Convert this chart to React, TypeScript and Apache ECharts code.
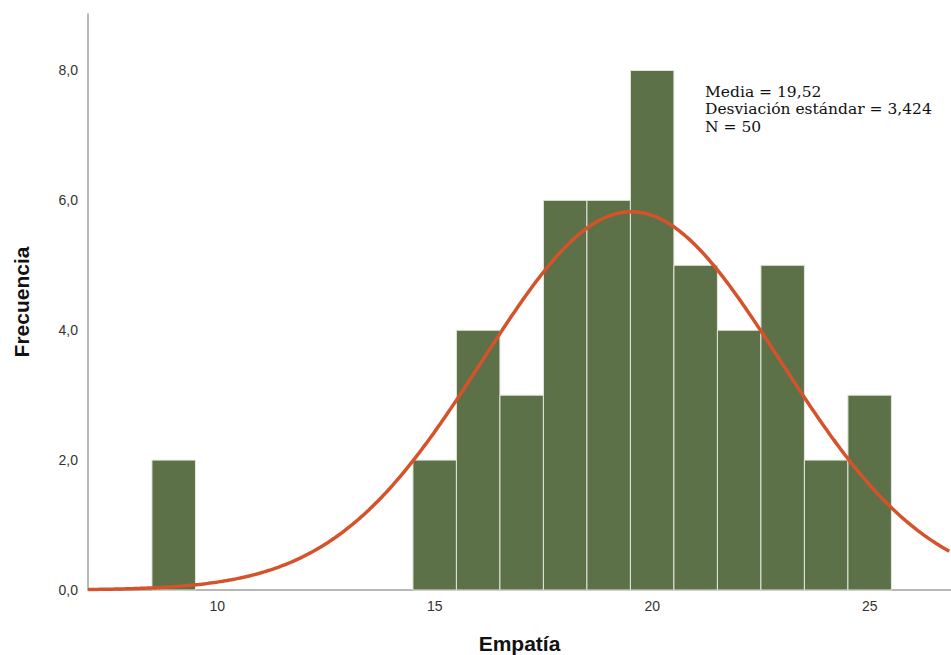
import React, { useEffect, useRef } from "react";
import * as echarts from "echarts";

const BIN_CENTERS = [9, 15, 16, 17, 18, 19, 20, 21, 22, 23, 24, 25];
const COUNTS = [2, 2, 4, 3, 6, 6, 8, 5, 4, 5, 2, 3];
const X_TICKS = [10, 15, 20, 25];
const Y_TICKS = [0, 2, 4, 6, 8];
const MEAN = 19.52;
const SD = 3.424;
const N = 50;
const BIN_WIDTH = 1;
const X_MIN = 7.03;
const X_MAX = 26.87;
const Y_MAX = 8.87;
const STATS_LINES = ["Media = 19,52", "Desviación estándar = 3,424", "N = 50"];

function normalCurve(): number[][] {
  const pts: number[][] = [];
  const k = (N * BIN_WIDTH) / (SD * Math.sqrt(2 * Math.PI));
  for (let x = X_MIN; x <= X_MAX + 1e-9; x += 0.05) {
    const z = (x - MEAN) / SD;
    pts.push([x, k * Math.exp(-0.5 * z * z)]);
  }
  return pts;
}

export default function App() {
  const ref = useRef<HTMLDivElement>(null);
  useEffect(() => {
    if (!ref.current) return;
    const chart = echarts.init(ref.current, null, { renderer: "svg" });
    const barData = BIN_CENTERS.map((c, i) => [c, COUNTS[i]]);
    chart.setOption({
      animation: false,
      backgroundColor: "#ffffff",
      grid: { left: 88, right: 0, top: 14, bottom: 65, containLabel: false, outerBoundsMode: "none" },
      xAxis: {
        type: "value",
        min: X_MIN,
        max: X_MAX,
        name: "Empatía",
        nameLocation: "middle",
        nameGap: 43,
        nameTextStyle: { fontFamily: "Liberation Sans", fontWeight: "bold", fontSize: 21, color: "#111" },
        axisLine: { show: true, lineStyle: { color: "#a0a0a0", width: 1.5 } },
        axisTick: { show: false },
        splitLine: { show: false },
        axisLabel: {
          customValues: X_TICKS,
          margin: 9,
          fontFamily: "Liberation Sans",
          fontSize: 14,
          color: "#333",
          formatter: (v: number) => String(v),
        },
      },
      yAxis: {
        type: "value",
        min: 0,
        max: Y_MAX,
        name: "Frecuencia",
        nameLocation: "middle",
        nameGap: 56,
        nameTextStyle: { fontFamily: "Liberation Sans", fontWeight: "bold", fontSize: 21, color: "#111" },
        axisLine: { show: true, lineStyle: { color: "#a0a0a0", width: 1.5 } },
        axisTick: { show: false },
        splitLine: { show: false },
        axisLabel: {
          customValues: Y_TICKS,
          margin: 10,
          padding: [6, 0, 0, 0],
          fontFamily: "Liberation Sans",
          fontSize: 14,
          color: "#333",
          formatter: (v: number) => v.toFixed(1).replace(".", ","),
        },
      },
      graphic: [
        {
          type: "text",
          left: 705,
          top: 83,
          style: {
            text: STATS_LINES.join("\n"),
            fontFamily: "DejaVu Serif",
            fontSize: 15.5,
            lineHeight: 17.5,
            fill: "#111",
          },
        },
      ],
      series: [
        {
          type: "custom",
          data: barData,
          encode: { x: 0, y: 1 },
          renderItem: (params: any, api: any) => {
            const x = api.value(0);
            const y = api.value(1);
            const p0 = api.coord([x - BIN_WIDTH / 2, y]);
            const p1 = api.coord([x + BIN_WIDTH / 2, 0]);
            return {
              type: "rect",
              shape: { x: p0[0], y: p0[1], width: p1[0] - p0[0], height: p1[1] - p0[1] },
              style: { fill: "#5c7148", stroke: "#e4e6dc", lineWidth: 1 },
            };
          },
          z: 2,
        },
        {
          type: "line",
          data: normalCurve(),
          showSymbol: false,
          symbol: "none",
          smooth: false,
          lineStyle: { color: "#d4532b", width: 3.5 },
          z: 3,
        },
      ],
    });
    return () => chart.dispose();
  }, []);
  return (
    <div
      ref={ref}
      style={{ position: "absolute", left: 0, top: 0, width: 951, height: 655 }}
    />
  );
}
